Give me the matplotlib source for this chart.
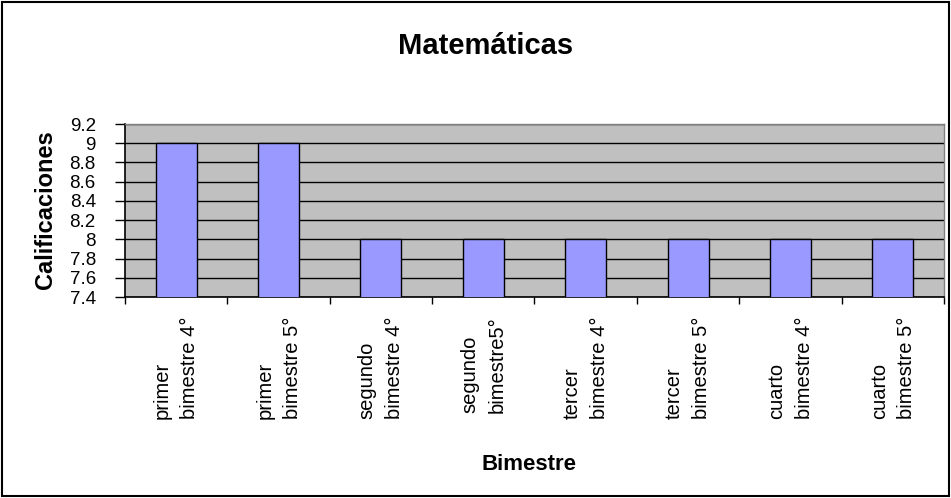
import matplotlib.pyplot as plt
from matplotlib.patches import Rectangle

plt.rcParams['font.family'] = ['Liberation Sans', 'DejaVu Sans']

categorias = ["primer\nbimestre 4°", "primer\nbimestre 5°", "segundo\nbimestre 4°",
              "segundo\nbimestre5°", "tercer\nbimestre 4°", "tercer\nbimestre 5°",
              "cuarto\nbimestre 4°", "cuarto\nbimestre 5°"]
calificaciones = [9, 9, 8, 8, 8, 8, 8, 8]
yticks = [7.4, 7.6, 7.8, 8, 8.2, 8.4, 8.6, 8.8, 9, 9.2]
yticklabels = ["7.4", "7.6", "7.8", "8", "8.2", "8.4", "8.6", "8.8", "9", "9.2"]

W, H = 951, 498
fig = plt.figure(figsize=(W / 100, H / 100), dpi=100)
ax = fig.add_axes([125 / W, 1 - 297 / H, (944 - 125) / W, (297 - 124) / H])
ax.set_facecolor('#C0C0C0')

x = list(range(len(categorias)))
ax.bar(x, calificaciones, width=0.4, color='#9999FF', edgecolor='black',
       linewidth=1, zorder=3)

ax.set_xlim(-0.5, len(categorias) - 0.5)
ax.set_ylim(7.4, 9.2)
ax.set_yticks(yticks)
ax.set_yticklabels(yticklabels, fontsize=13.5)
ax.yaxis.grid(True, color='black', linewidth=1, zorder=1)
ax.set_axisbelow(True)

# etiquetas centradas en cada categoria, marcas entre categorias
ax.set_xticks(x)
labels = ax.set_xticklabels(categorias, rotation=90, fontsize=14.5, ha='center',
                            va='top', multialignment='left')
for t in labels:
    t.set_linespacing(1.55)
ax.tick_params(axis='x', length=0, pad=14)
ax.set_xticks([i + 0.5 for i in range(-1, len(categorias))], minor=True)
ax.tick_params(axis='x', which='minor', direction='out', length=5, width=1)
ax.tick_params(axis='y', direction='out', length=7, width=1, pad=14)

for s in ['left', 'bottom']:
    ax.spines[s].set_color('black')
    ax.spines[s].set_linewidth(1.2)
for s in ['top', 'right']:
    ax.spines[s].set_color('#808080')
    ax.spines[s].set_linewidth(1)

fig.text(486 / W, 1 - 46 / H, "Matemáticas", ha='center', va='center',
         fontsize=21, fontweight='bold')
fig.text(46 / W, 1 - 210 / H, "Calificaciones", ha='center', va='center',
         rotation=90, fontsize=17, fontweight='bold')
fig.text(529 / W, 1 - 465 / H, "Bimestre", ha='center', va='center',
         fontsize=16, fontweight='bold')

fig.patches.append(Rectangle((2 / W, 2 / H), (W - 4) / W, (H - 4) / H,
                             transform=fig.transFigure, fill=False,
                             edgecolor='black', linewidth=1.5))

fig.savefig('out.png', dpi=100)
